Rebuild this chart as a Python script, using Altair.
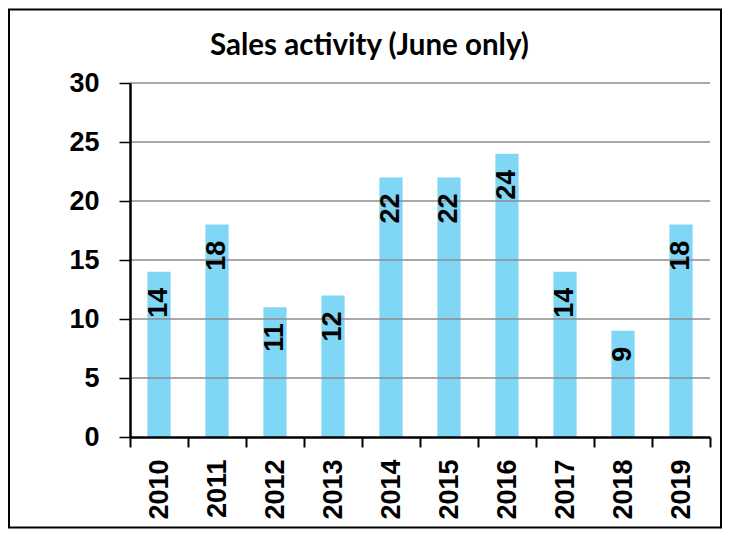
import altair as alt
import pandas as pd

years = ["2010", "2011", "2012", "2013", "2014", "2015", "2016", "2017", "2018", "2019"]
values = [14, 18, 11, 12, 22, 22, 24, 14, 9, 18]
title_text = "Sales activity (June only)"
y_ticks = [0, 5, 10, 15, 20, 25, 30]

df = pd.DataFrame({"year": years, "value": values})
grid_df = pd.DataFrame({"tick": y_ticks[1:]})

W, H = 580, 354
LABEL_FONT = "Liberation Sans"

x_enc = alt.X(
    "year:O",
    sort=years,
    scale=alt.Scale(paddingInner=0, paddingOuter=0),
    axis=alt.Axis(
        title=None,
        labelAngle=-90,
        labelFont=LABEL_FONT,
        labelFontSize=27,
        labelFontWeight="bold",
        labelColor="black",
        labelPadding=12,
        tickBand="extent",
        tickSize=10,
        tickWidth=2,
        tickColor="black",
        domainColor="black",
        domainWidth=2.5,
        grid=False,
        zindex=1,
    ),
)

y_enc = alt.Y(
    "value:Q",
    scale=alt.Scale(domain=[0, 30], nice=False),
    axis=alt.Axis(
        title=None,
        values=y_ticks,
        labelFont=LABEL_FONT,
        labelFontSize=27,
        labelFontWeight="bold",
        labelColor="black",
        labelPadding=20,
        tickSize=11,
        tickWidth=1.5,
        tickColor="black",
        domainColor="black",
        domainWidth=2.5,
        grid=False,
        zindex=1,
    ),
)

base = alt.Chart(df)

bars = base.mark_bar(color="#80d6f5", width=alt.RelativeBandSize(0.4)).encode(x=x_enc, y=y_enc)

grid = alt.Chart(grid_df).mark_rule(color="#8c8c8c", strokeWidth=1.5).encode(
    y=alt.Y("tick:Q"), x=alt.value(0), x2=alt.value(W)
)

labels = base.mark_text(
    angle=270,
    align="right",
    baseline="middle",
    dx=-16,
    font=LABEL_FONT,
    fontSize=27,
    fontWeight="bold",
    color="black",
).encode(x=alt.X("year:O", sort=years), y="value:Q", text="value:Q")

title_df = pd.DataFrame({"t": [title_text]})
title = alt.Chart(title_df).mark_text(
    font="Lato",
    fontSize=29.5,
    fontWeight="bold",
    color="black",
    align="center",
    baseline="alphabetic",
).encode(x=alt.value(239.5), y=alt.value(-28), text="t:N")

frame = alt.Chart(title_df).mark_rect(
    fillOpacity=0, fill="white", stroke="black", strokeWidth=2
).encode(x=alt.value(-121), x2=alt.value(591), y=alt.value(-73.5), y2=alt.value(444.5))

chart = (
    alt.layer(frame, bars, grid, labels, title)
    .properties(width=W, height=H, padding=0)
    .configure_view(stroke=None)
)

chart.save("out.html", embed_options={"renderer": "svg", "actions": False})
